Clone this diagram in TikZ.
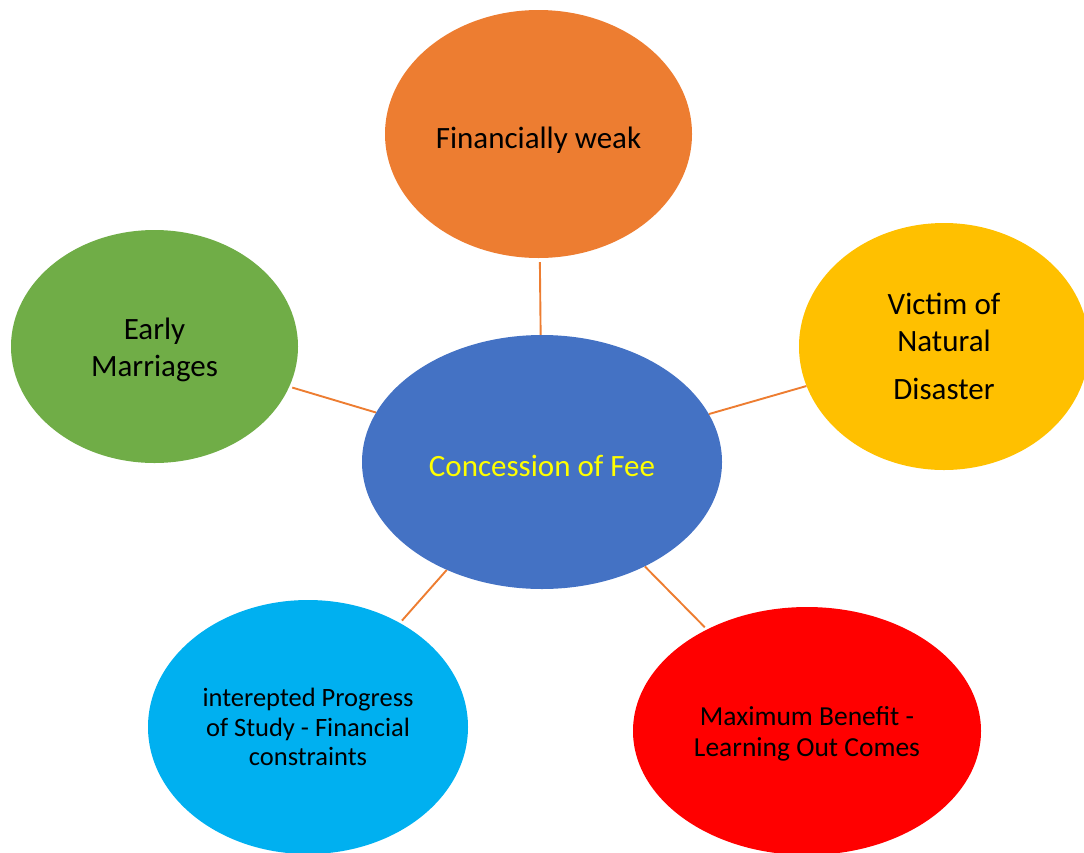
\documentclass[tikz,border=0pt]{standalone}
\usepackage{fontspec}
\setmainfont{Carlito}
\usetikzlibrary{shapes.geometric}
\definecolor{cblue}{HTML}{4472C4}
\definecolor{corange}{HTML}{ED7D31}
\definecolor{cgold}{HTML}{FFC000}
\definecolor{cgreen}{HTML}{70AD47}
\definecolor{ccyan}{HTML}{00B0F0}
\definecolor{cred}{HTML}{FF0000}
\definecolor{cyel}{HTML}{FFFF00}
\begin{document}
\begin{tikzpicture}[x=1pt,y=-1pt,
  bubble/.style={ellipse, inner sep=0pt, align=center, text=black, draw=none},
  bigtext/.style={font=\fontsize{31}{37}\selectfont},
  link/.style={draw=corange, line width=1.9pt}]
\useasboundingbox (0,0) rectangle (1084,852);
\clip (0,0) rectangle (1084,852);
\node[bubble, bigtext, fill=cblue, text=cyel, minimum width=360pt, minimum height=254pt, text height=28pt, text depth=0pt] (center) at (542,462) {Concession of Fee};
\node[bubble, bigtext, fill=corange, minimum width=307pt, minimum height=248pt, text height=34pt, text depth=6pt] (top) at (538.5,134) {Financially weak};
\node[bubble, bigtext, fill=cgreen, minimum width=287pt, minimum height=233pt] (left) at (154.5,346.5) {\rule{0pt}{28.5pt}Early\\Marriages};
\node[bubble, bigtext, fill=cgold, minimum width=290pt, minimum height=247pt] (right) at (944,346.5) {Victim of\\Natural\\[11pt]Disaster};
\node[bubble, fill=ccyan, minimum width=320pt, minimum height=254pt, font=\fontsize{26.5}{29.5}\selectfont] (bl) at (308,727) {interepted Progress\\of Study - Financial\\constraints};
\node[bubble, fill=cred, minimum width=348pt, minimum height=248pt, font=\fontsize{27.5}{31}\selectfont] (br) at (807,731) {\rule{0pt}{24.5pt}Maximum Benefit -\\Learning Out Comes};
\draw[link, shorten <=4pt] (top) -- (center);
\draw[link, shorten <=3pt] (left) -- (center);
\draw[link] (right) -- (center);
\draw[link, shorten <=3pt] (bl) -- (center);
\draw[link, shorten <=3pt] (br) -- (center);
\end{tikzpicture}
\end{document}
